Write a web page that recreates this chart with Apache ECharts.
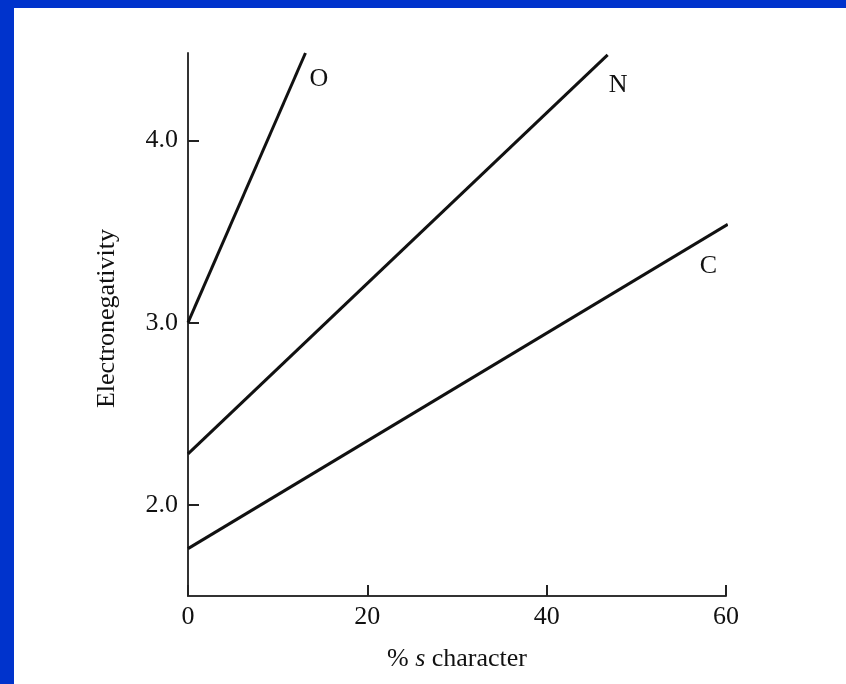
<!DOCTYPE html>
<html>
<head>
<meta charset="utf-8">
<script src="https://cdn.jsdelivr.net/npm/echarts@6/dist/echarts.min.js"></script>
<style>
html,body{margin:0;padding:0;background:#fff;}
#chart{width:846px;height:684px;}
</style>
</head>
<body>
<div id="chart"></div>
<script>
// Data
var xTicks = [0, 20, 40, 60];
var yTicks = [2.0, 3.0, 4.0];
var seriesNames = ['O', 'N', 'C'];
var oLine = [[0, 3.0], [13.1, 4.48]];
var nLine = [[0, 2.28], [46.8, 4.47]];
var cLine = [[0, 1.76], [60.2, 3.54]];

var FONT = 'Liberation Serif';
var TXT = '#111';

function lineSeries(name, pts, labelOffset) {
  return {
    name: name, type: 'line', data: pts, symbol: 'none', clip: false,
    lineStyle: { color: '#111', width: 3 }, silent: true, animation: false,
    endLabel: {
      show: true, formatter: name, distance: 4, offset: labelOffset,
      fontFamily: FONT, fontSize: 26, color: TXT
    }
  };
}

var chart = echarts.init(document.getElementById('chart'));
chart.setOption({
  animation: false,
  backgroundColor: '#fff',
  graphic: [
    { type: 'rect', left: 0, top: 0, shape: { width: 846, height: 8 }, style: { fill: '#0033CC' } },
    { type: 'rect', left: 0, top: 0, shape: { width: 14, height: 684 }, style: { fill: '#0033CC' } }
  ],
  grid: { left: 188, right: 120, top: 53, bottom: 88 },
  xAxis: {
    type: 'value', min: xTicks[0], max: xTicks[xTicks.length - 1], interval: 20,
    splitLine: { show: false },
    axisLine: { lineStyle: { color: '#333', width: 2 } },
    axisTick: { inside: true, length: 11, lineStyle: { color: '#222', width: 2 } },
    axisLabel: { fontFamily: FONT, fontSize: 26, color: TXT, margin: 8 },
    name: '% {i|s} character',
    nameLocation: 'middle', nameGap: 50,
    nameTextStyle: {
      fontFamily: FONT, fontSize: 26, color: TXT,
      rich: { i: { fontFamily: FONT, fontSize: 26, fontStyle: 'italic', color: TXT } }
    }
  },
  yAxis: {
    type: 'value', min: 1.5, max: 4.48,
    splitLine: { show: false },
    axisLine: { lineStyle: { color: '#333', width: 2 } },
    axisTick: { inside: true, length: 11, customValues: yTicks, lineStyle: { color: '#222', width: 2 } },
    axisLabel: {
      fontFamily: FONT, fontSize: 26, color: TXT, margin: 10, customValues: yTicks,
      formatter: function (v) { return v.toFixed(1); }
    },
    name: 'Electronegativity',
    nameLocation: 'middle', nameGap: 68, nameRotate: 90,
    nameTextStyle: { fontFamily: FONT, fontSize: 26, color: TXT, padding: [0, 0, 0, 12] }
  },
  series: [
    lineSeries(seriesNames[0], oLine, [0, 26]),
    lineSeries(seriesNames[1], nLine, [-3, 30]),
    lineSeries(seriesNames[2], cLine, [-32, 42])
  ]
});
</script>
</body>
</html>
